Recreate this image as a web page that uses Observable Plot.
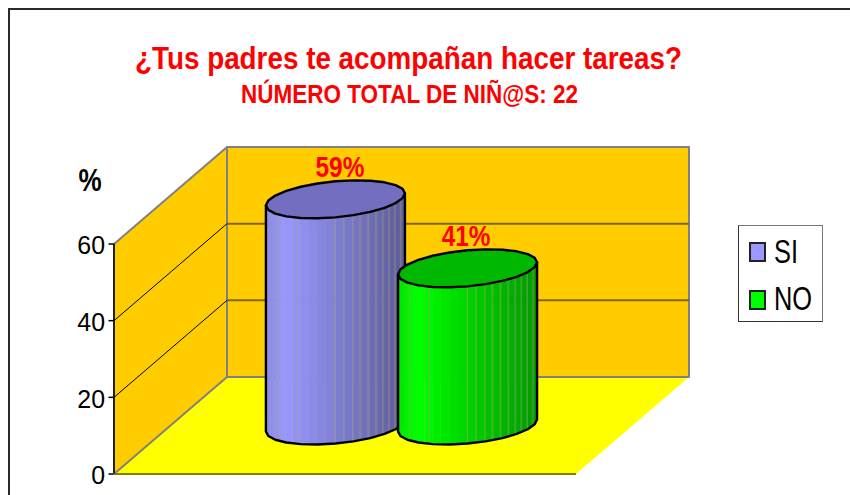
<!DOCTYPE html>
<html lang="es">
<head>
<meta charset="utf-8">
<script src="https://cdn.jsdelivr.net/npm/d3@7"></script>
<script src="https://cdn.jsdelivr.net/npm/@observablehq/plot@0.6"></script>
<style>
  html, body { margin: 0; padding: 0; background: #fff; width: 850px; height: 495px; overflow: hidden; font-family: "Liberation Sans", Arial, sans-serif; }
  #frame { position: absolute; left: 8px; top: 8px; width: 1000px; height: 800px; border: 2px solid #2a2a2a; box-sizing: border-box; }
  #chart { position: absolute; left: 0; top: 0; }
  .head { position: absolute; margin: 0; color: #ff0000; font-weight: bold; white-space: nowrap; transform-origin: 0 0; line-height: 1; }
  #title { left: 135px; top: 43px; font-size: 31px; }
  #subtitle { left: 241px; top: 82px; font-size: 25px; }
  #legend { position: absolute; left: 738px; top: 225px; width: 85px; height: 97px; box-sizing: border-box; background: #fff; border: 1px solid #333; border-top-color: #777; border-right-color: #777; }
  .swatch { position: absolute; left: 10px; width: 17px; height: 20px; box-sizing: border-box; border: 2px solid #222; }
  .entry { position: absolute; left: 35px; font-size: 33px; line-height: 1; color: #000; transform-origin: 0 0; transform: scaleX(0.77); }
</style>
</head>
<body>
<div id="frame"></div>
<div id="chart"></div>
<h1 class="head" id="title">¿Tus padres te acompañan hacer tareas?</h1>
<h2 class="head" id="subtitle">NÚMERO TOTAL DE NIÑ@S: 22</h2>
<div id="legend"></div>
<script>
// --- Data ---
const categories = ["SI", "NO"];
const percentages = [59, 41];
const valueLabels = ["59%", "41%"];
const yTicks = [0, 20, 40, 60];
const gridValues = [20, 40];
const bodyColors = ["#9999ff", "#00ff00"];

// --- Oblique projection: depth d (0 front, 1 back) shifts x and y in data units ---
const W = 850, H = 495;
const left = 113.5, right = 575.5, base = 473.5, top60 = 243.5;
const yMax = 60;
const pxPerValue = (base - top60) / yMax;
const kU = 113 / (right - left);
const kV = 97 / pxPerValue;
const U = (u, d) => u + d * kU;
const V = (v, d) => v + d * kV;
const pt = (u, v, d) => ({x: U(u, d), y: V(v, d)});

// Cylinder cross-section
const centerOf = d3.scalePoint().domain(categories).range([0.357, 0.643]);
const rU = 0.1426, rD = 0.196, dMid = 0.5;
const phi = Math.atan2(rD * 113, rU * (right - left));
const ring = (cat, v, alpha) => {
  const th = phi - alpha;
  return pt(centerOf(cat) + rU * Math.cos(th), v, dMid + rD * Math.sin(th));
};
const STEP = Math.PI / 24;
const idx = d3.range(0, 24);

function shade(hex, t) {
  // t: 0 at left silhouette, 1 at right silhouette
  const f = t < 0.14 ? 0.9 + (t / 0.14) * 0.1 : 1 - ((t - 0.14) / 0.86) * 0.4;
  const c = d3.rgb(hex);
  return d3.rgb(c.r * f, c.g * f, c.b * f).formatHex();
}

// Faint seams between slices, as angles (degrees) round the front from the right silhouette
const seamAngles = [19.6, 31, 39.6, 46.9, 54.3, 62, 69.3, 75.4, 83, 90, 123.6, 146];
// Horizontal nudge of each value label, in pixels
const labelShift = [4.5, -1.5];

function cylinderMarks(cat, i) {
  const v = percentages[i], col = bodyColors[i];
  const strips = idx.flatMap(k => {
    const a0 = k * STEP, a1 = (k + 1) * STEP;
    const mid = (a0 + a1) / 2;
    const fill = shade(col, (1 - Math.cos(Math.PI - mid)) / 2);
    return [a0, a1].map(a => ({
      k, fill,
      x: ring(cat, 0, a).x,
      y1: ring(cat, 0, a).y,
      y2: ring(cat, v, a).y
    }));
  });
  const seams = seamAngles.map(deg => {
    const a = deg * Math.PI / 180;
    return {x: ring(cat, 0, a).x, y1: ring(cat, 0, a).y, y2: ring(cat, v, a).y};
  });
  const frontBottom = d3.range(0, 25, 2).map(k => ring(cat, 0, k * STEP));
  const outline = [ring(cat, v, 0), ...frontBottom, ring(cat, v, Math.PI)];
  const topRing = d3.range(0, 49, 2).map(k => ring(cat, v, k * STEP));
  const c = d3.rgb(col);
  const topFill = d3.rgb(c.r * 0.75, c.g * 0.72, c.b * 0.75).formatHex();
  return [
    Plot.area(strips, {x1: "x", y1: "y1", y2: "y2", z: "k", fill: "fill", stroke: "fill", strokeWidth: 0.6}),
    Plot.link(seams, {x1: "x", x2: "x", y1: "y1", y2: "y2", stroke: "#a9a27a", strokeWidth: 1, strokeOpacity: 0.6}),
    Plot.line(outline, {x: "x", y: "y", stroke: "#000", strokeWidth: 2.4, curve: "linear"}),
    Plot.line(topRing, {x: "x", y: "y", fill: topFill, stroke: "#000", strokeWidth: 2.4, curve: "linear"})
  ];
}

// Static scene polygons
const floor = [pt(0, 0, 0), pt(1, 0, 0), pt(1, 0, 1), pt(0, 0, 1), pt(0, 0, 0)];
const sideWall = [pt(0, 0, 0), pt(0, yMax, 0), pt(0, yMax, 1), pt(0, 0, 1), pt(0, 0, 0)];
const backWall = [pt(0, 0, 1), pt(1, 0, 1), pt(1, yMax, 1), pt(0, yMax, 1), pt(0, 0, 1)];

const chart = Plot.plot({
  width: W, height: H,
  marginLeft: left, marginRight: W - right, marginTop: top60, marginBottom: H - base,
  x: {domain: [0, 1], axis: null},
  y: {domain: [0, yMax], axis: null},
  color: {type: "identity"},
  style: {background: "transparent", overflow: "visible", fontFamily: "'Liberation Sans', Arial, sans-serif"},
  marks: [
    Plot.line(floor, {x: "x", y: "y", fill: "#ffff00", stroke: null}),
    Plot.line(sideWall, {x: "x", y: "y", fill: "#ffcc00", stroke: "#808080", strokeWidth: 2}),
    Plot.line(backWall, {x: "x", y: "y", fill: "#ffcc00", stroke: "#808080", strokeWidth: 2}),
    Plot.link(gridValues, {x1: U(0, 1), x2: U(1, 1), y1: d => V(d, 1), y2: d => V(d, 1), stroke: "#7f6600", strokeWidth: 2}),
    Plot.link(gridValues, {x1: U(0, 0), x2: U(0, 1), y1: d => V(d, 0), y2: d => V(d, 1), stroke: "#000", strokeWidth: 1}),
    Plot.link([0], {x1: U(0, 0), x2: U(1, 0), y1: 0, y2: 0, stroke: "#808000", strokeWidth: 2}),
    ...categories.flatMap(cylinderMarks),
    Plot.ruleX([0], {y1: 0, y2: yMax, stroke: "#000", strokeWidth: 1.5}),
    Plot.axisY(yTicks, {anchor: "left", tickSize: 5, tickPadding: 4, fontSize: 26.5, stroke: "#000", strokeWidth: 1.5, fill: "#000", label: null, tickFormat: d => d}),
    Plot.text(["%"], {x: -0.052, y: 76.4, text: d => d, fontSize: 31, fontWeight: "bold", fill: "#000"}),
    Plot.text(categories, {
      x: c => U(centerOf(c), dMid) + labelShift[categories.indexOf(c)] / (right - left),
      y: c => V(percentages[categories.indexOf(c)], dMid) + rD * kV + 13 / pxPerValue,
      text: c => valueLabels[categories.indexOf(c)],
      fontSize: 29, fontWeight: "bold", fill: "#ff0000"
    })
  ]
});
document.getElementById("chart").append(chart);

// Condense the tall narrow glyphs of the reference
chart.querySelectorAll("text").forEach(t => {
  const isTick = t.closest('[aria-label="y-axis tick label"]') !== null;
  const len = t.getComputedTextLength();
  t.setAttribute("textLength", len * (isTick ? 0.94 : 0.84));
  t.setAttribute("lengthAdjust", "spacingAndGlyphs");
});
// Axis numbers sit slightly below their ticks in the reference
const tickLabels = chart.querySelector('[aria-label="y-axis tick label"]');
if (tickLabels) tickLabels.setAttribute("transform", `${tickLabels.getAttribute("transform") || ""} translate(0,2)`);

function fit(el, target) {
  const w = el.getBoundingClientRect().width;
  el.style.transform = `scaleX(${target / w})`;
}
fit(document.getElementById("title"), 547);
fit(document.getElementById("subtitle"), 337);

// Legend
const legend = document.getElementById("legend");
categories.forEach((c, i) => {
  const s = document.createElement("div");
  s.className = "swatch";
  s.style.top = (16 + i * 48) + "px";
  s.style.background = bodyColors[i];
  const e = document.createElement("div");
  e.className = "entry";
  e.textContent = c;
  e.style.top = (9 + i * 47) + "px";
  legend.append(s, e);
});
</script>
</body>
</html>
